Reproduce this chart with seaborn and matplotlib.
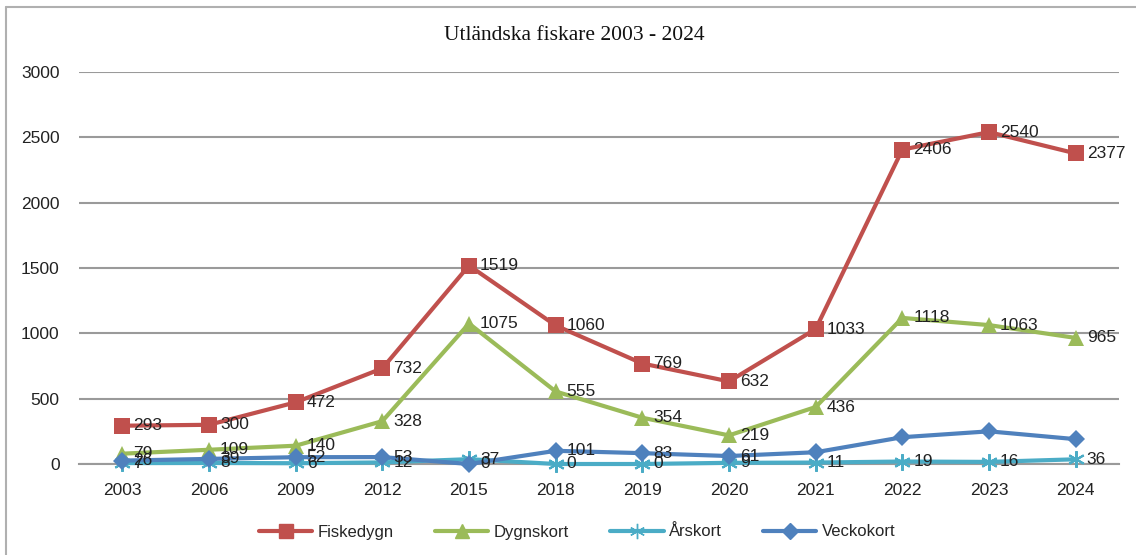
import matplotlib
matplotlib.use("Agg")
import matplotlib.pyplot as plt
from matplotlib.lines import Line2D
import seaborn as sns
import pandas as pd

years = ["2003", "2006", "2009", "2012", "2015", "2018", "2019", "2020", "2021", "2022", "2023", "2024"]
fiskedygn = [293, 300, 472, 732, 1519, 1060, 769, 632, 1033, 2406, 2540, 2377]
dygnskort = [79, 109, 140, 328, 1075, 555, 354, 219, 436, 1118, 1063, 965]
arskort = [7, 8, 6, 12, 37, 0, 0, 9, 11, 19, 16, 36]
veckokort = [26, 39, 52, 53, 0, 101, 83, 61, 90, 205, 250, 190]
series_names = ["Fiskedygn", "Dygnskort", "Årskort", "Veckokort"]
# which points carry a value label (Veckokort labels are missing after 2020 in the original)
label_flags = {
    "Fiskedygn": [True] * 12,
    "Dygnskort": [True] * 12,
    "Årskort": [True] * 12,
    "Veckokort": [True] * 8 + [False] * 4,
}
title = "Utländska fiskare 2003 - 2024"
yticks = [0, 500, 1000, 1500, 2000, 2500, 3000]

values = {"Fiskedygn": fiskedygn, "Dygnskort": dygnskort, "Årskort": arskort, "Veckokort": veckokort}
rows = []
for name in series_names:
    for i, (y, v) in enumerate(zip(years, values[name])):
        rows.append({"pos": i, "year": y, "value": v, "series": name})
df = pd.DataFrame(rows)

palette = {"Fiskedygn": "#C0504D", "Dygnskort": "#9BBB59", "Årskort": "#4BACC6", "Veckokort": "#4F81BD"}
markers = {"Fiskedygn": "s", "Dygnskort": "^", "Årskort": (6, 2, 0), "Veckokort": "D"}
msizes = {"Fiskedygn": 11, "Dygnskort": 11, "Årskort": 12, "Veckokort": 9}

sns.set_theme(style="white")
plt.rcParams["font.family"] = ["Liberation Sans", "DejaVu Sans"]

fig = plt.figure(figsize=(11.36, 5.55), dpi=100)
ax = fig.add_axes([79 / 1136, 1 - 464 / 555, (1119 - 79) / 1136, (464 - 72) / 555])

for name in series_names:
    sub = df[df.series == name]
    sns.lineplot(data=sub, x="pos", y="value", ax=ax, color=palette[name],
                 marker=markers[name], markersize=msizes[name], linewidth=3,
                 markeredgecolor=palette[name], markeredgewidth=1.5 if name == "Årskort" else 0,
                 label=name, sort=False, zorder=3)
    for i, v in enumerate(values[name]):
        if label_flags[name][i]:
            ax.annotate(str(v), (i, v), xytext=(8, 0), textcoords="offset points",
                        va="center", ha="left", fontsize=12.5, color="#222222", zorder=4)

ax.set_xlim(-0.5, len(years) - 0.5)
ax.set_ylim(0, 3000)
ax.set_yticks(yticks)
ax.set_yticklabels([str(t) for t in yticks], fontsize=12.5, color="#222222")
ax.set_xticks(range(len(years)))
ax.set_xticklabels(years, fontsize=12.5, color="#222222")
ax.tick_params(axis="both", length=0)
ax.tick_params(axis="y", pad=14)
ax.tick_params(axis="x", pad=14)
ax.set_xlabel("")
ax.set_ylabel("")
ax.grid(axis="y", color="#9A9A9A", linewidth=1.5)
ax.grid(axis="x", visible=False)
ax.set_axisbelow(True)
for s in ["top", "right", "left"]:
    ax.spines[s].set_visible(False)
ax.spines["bottom"].set_color("#9A9A9A")
ax.spines["bottom"].set_linewidth(1.5)
for l in ax.lines:
    l.set_clip_on(False)

ax.get_legend().remove()
new_handles = [Line2D([0], [0], color=palette[n], marker=markers[n], markersize=msizes[n] - 1,
                      linewidth=3, markeredgecolor=palette[n]) for n in series_names]
fig.legend(new_handles, series_names, loc="center", bbox_to_anchor=(577 / 1136, 1 - 532 / 555),
           ncol=4, frameon=False, fontsize=12, handlelength=3.2, columnspacing=2.5, handletextpad=0.3)

fig.text(574 / 1136, 1 - 36 / 555, title, ha="center", va="center", fontsize=15.5,
         family=["Liberation Serif", "DejaVu Serif"], color="#111111")

# outer frame (top and left edges visible in the original)
fig.add_artist(Line2D([6 / 1136, 1.0], [1 - 7 / 555, 1 - 7 / 555], color="#B0B0B0", linewidth=1.5,
                      transform=fig.transFigure))
fig.add_artist(Line2D([6 / 1136, 6 / 1136], [0, 1 - 7 / 555], color="#B0B0B0", linewidth=1.5,
                      transform=fig.transFigure))

fig.savefig("out.png", dpi=100, facecolor="white")
